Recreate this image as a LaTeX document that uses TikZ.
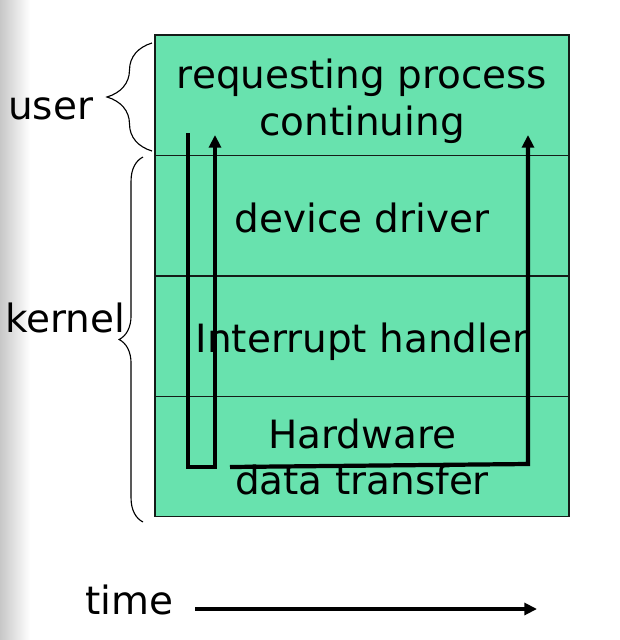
\documentclass[tikz,border=0pt]{standalone}
\usepackage{fontspec}
\setmainfont{DejaVu Sans}
\usepackage{tikz}
\usetikzlibrary{arrows.meta, positioning, calc, decorations.pathreplacing}
\definecolor{boxfill}{RGB}{104,226,174}
\definecolor{boxedge}{RGB}{20,28,24}
\definecolor{mydark}{RGB}{0,0,0}
\tikzset{
  stackbox/.style={rectangle, draw=boxedge, fill=boxfill,
    minimum width=10.35cm, minimum height=3.01cm,
    inner sep=0pt, outer sep=0pt, line width=1pt},
  lbl/.style={font=\fontsize{27.7}{33}\selectfont, inner sep=0pt,
    align=center, text=black},
  flow/.style={line width=3pt, color=mydark,
    -{Triangle[length=9pt, width=8.5pt]}},
  bracket/.style={decorate, line width=0.8pt, color=mydark}
}
\begin{document}
\begin{tikzpicture}[x=0.025cm, y=-0.025cm]
  \useasboundingbox (0,0) rectangle (620,640);
  \shade[left color=black!22, right color=white] (0,0) rectangle (30,640);
  % the four layers
  \node[stackbox, anchor=north west] (proc) at (155,35) {};
  \node[stackbox, below=0pt of proc] (drv) {};
  \node[stackbox, below=0pt of drv]  (irq) {};
  \node[stackbox, below=0pt of irq]  (hw)  {};
  \node[lbl, anchor=base] (tproc) at ($(proc.center)+(0,40)$) {requesting process\\continuing};
  \node[lbl, anchor=base] (tdrv)  at ($(drv.center)+(0,17)$)  {device driver};
  \node[lbl, anchor=base] (tirq)  at ($(irq.center)+(0,16)$)  {Interrupt handler};
  \node[lbl, anchor=base] (thw)   at ($(hw.center)+(0,38)$)   {Hardware\\data transfer};
  % user / kernel braces
  \coordinate (ut) at (152,43);
  \coordinate (ub) at (152,151);
  \coordinate (kt) at (143,157);
  \coordinate (kb) at (143,522);
  \draw[bracket, decoration={brace, amplitude=32pt}] (ub) -- (ut);
  \draw[bracket, decoration={brace, amplitude=17pt}] (kb) -- (kt);
  \node[lbl, anchor=base west] (user)   at (8,119)  {user};
  \node[lbl, anchor=base west] (kernel) at (5,332)  {kernel};
  % request paths
  \coordinate (a0) at (188,133);
  \coordinate (a1) at (215,467);
  \coordinate (a2) at (215,135);
  \coordinate (b0) at (230,467);
  \coordinate (b1) at (528,464);
  \coordinate (b2) at (528,135);
  \draw[flow] (a0) |- (a1) -- (a2);
  \draw[flow] (b0) -- (b1) -- (b2);
  % time axis
  \node[lbl, anchor=base west] (time) at (85,614) {time};
  \coordinate (t0) at (195,609);
  \coordinate (t1) at (537,609);
  \draw[flow] (t0) -- (t1);
\end{tikzpicture}
\end{document}
